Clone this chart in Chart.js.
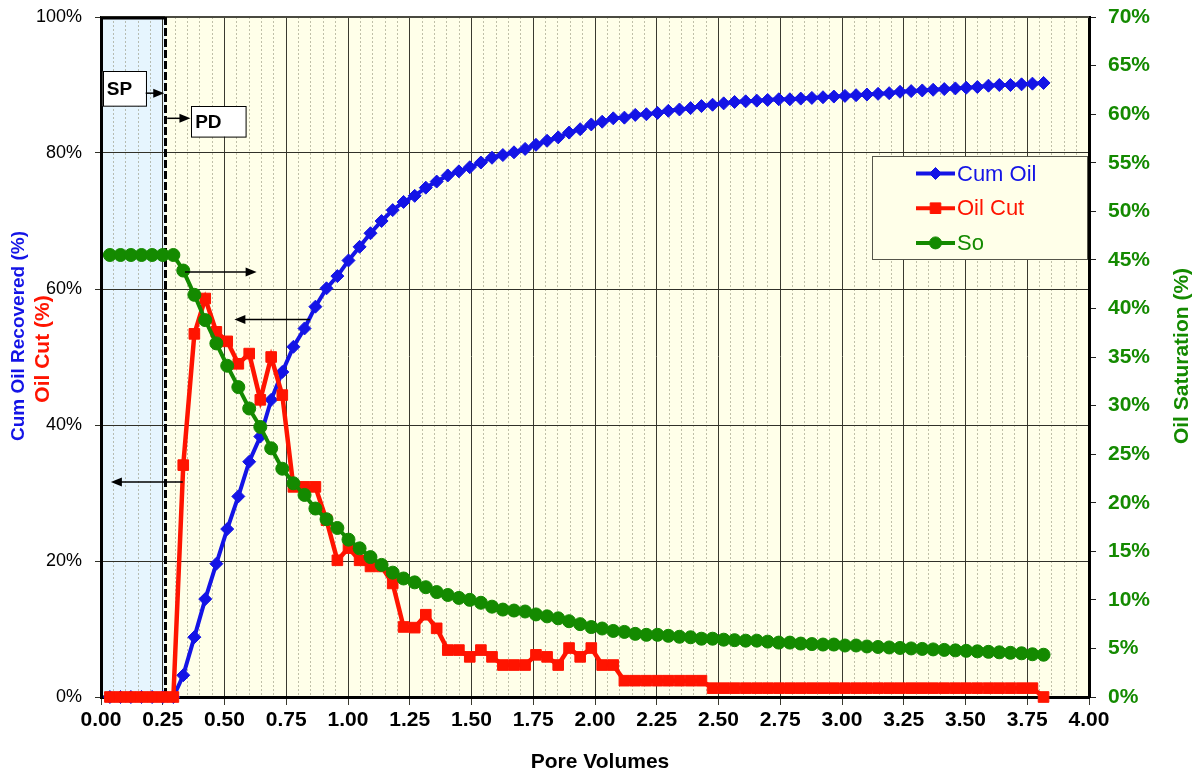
<!DOCTYPE html>
<html><head><meta charset="utf-8">
<script src="https://cdn.jsdelivr.net/npm/chart.js@4.4.1/dist/chart.umd.min.js"></script>
<style>html,body{margin:0;padding:0;background:#fff;}canvas{display:block;}</style>
</head><body>
<canvas id="c" width="1202" height="776"></canvas>
<script>
// ---------- data ----------
const pv = [0.036,0.079,0.121,0.164,0.207,0.250,0.293,0.333,0.378,0.422,0.467,0.511,0.556,0.600,0.645,0.689,
 0.734,0.779,0.824,0.868,0.913,0.957,1.002,1.047,1.091,1.136,1.181,1.225,1.270,1.315,1.359,1.404,1.449,1.493,
 1.538,1.583,1.627,1.672,1.717,1.761,1.806,1.851,1.895,1.940,1.985,2.029,2.074,2.119,2.163,2.208,2.253,2.297,
 2.342,2.387,2.431,2.476,2.521,2.565,2.610,2.655,2.699,2.744,2.789,2.833,2.878,2.923,2.967,3.012,3.057,3.101,
 3.146,3.191,3.235,3.280,3.325,3.369,3.414,3.459,3.503,3.548,3.593,3.637,3.682,3.727,3.771,3.816];
const cumOil = [0,0,0,0,0,0,0,3.2,8.8,14.4,19.6,24.7,29.5,34.6,38.3,43.7,47.8,
 51.5,54.2,57.4,60.1,61.9,64.2,66.2,68.2,70.0,71.6,
 72.8,73.7,74.9,75.8,76.7,77.3,77.9,78.6,79.3,79.7,
 80.1,80.6,81.2,81.8,82.3,83.0,83.5,84.2,84.6,85.1,
 85.2,85.6,85.7,85.9,86.2,86.4,86.6,86.9,87.1,87.3,
 87.5,87.6,87.7,87.8,87.9,87.9,88.0,88.1,88.2,88.3,
 88.4,88.5,88.6,88.7,88.8,89.0,89.1,89.2,89.3,89.4,
 89.5,89.6,89.7,89.9,90.0,90.0,90.1,90.2,90.3];
const oilCut = [0,0,0,0,0,0,0,34.1,53.4,58.6,53.7,52.3,49.0,50.5,43.7,50.0,44.4,
 30.9,30.9,30.9,26.0,20.1,21.9,20.1,19.2,19.2,16.7,
 10.3,10.2,12.1,10.1,6.9,6.9,5.9,6.9,5.9,4.7,
 4.7,4.7,6.2,5.9,4.7,7.2,5.9,7.2,4.7,4.7,
 2.4,2.4,2.4,2.4,2.4,2.4,2.4,2.4,1.3,1.3,
 1.3,1.3,1.3,1.3,1.3,1.3,1.3,1.3,1.3,1.3,
 1.3,1.3,1.3,1.3,1.3,1.3,1.3,1.3,1.3,1.3,
 1.3,1.3,1.3,1.3,1.3,1.3,1.3,1.3,0];
const so = [45.5,45.5,45.5,45.5,45.5,45.5,45.5,43.9,41.4,38.8,36.4,34.1,31.9,29.7,27.8,25.6,23.5,
 22.0,20.8,19.4,18.3,17.4,16.2,15.3,14.4,13.6,12.8,
 12.2,11.8,11.3,10.8,10.5,10.2,10.0,9.7,9.3,9.0,
 8.9,8.8,8.5,8.3,8.1,7.8,7.5,7.2,7.05,6.8,
 6.7,6.5,6.4,6.4,6.3,6.2,6.15,6.0,6.0,5.9,
 5.85,5.8,5.8,5.7,5.6,5.6,5.5,5.45,5.4,5.4,
 5.3,5.3,5.2,5.15,5.1,5.05,5.0,4.95,4.9,4.85,
 4.8,4.75,4.7,4.65,4.6,4.55,4.5,4.4,4.35];
const seriesNames = ['Cum Oil','Oil Cut','So'];
const xTicks = [0,0.25,0.5,0.75,1,1.25,1.5,1.75,2,2.25,2.5,2.75,3,3.25,3.5,3.75,4];
const leftTicks = [0,20,40,60,80,100];
const rightTicks = [0,5,10,15,20,25,30,35,40,45,50,55,60,65,70];
const spEnd = 0.26;

// ---------- styles ----------
const FONT = '"Liberation Sans", Arial, Helvetica, sans-serif';
const BLUE = '#1414E6', RED = '#FF1400', GREEN = '#148A00';

function drawMarker(ctx, style, x, y, color){
  ctx.fillStyle = color; ctx.strokeStyle = color; ctx.lineWidth = 1;
  ctx.beginPath();
  if(style === 'rectRot'){ const r=6; ctx.moveTo(x,y-r); ctx.lineTo(x+r,y); ctx.lineTo(x,y+r); ctx.lineTo(x-r,y); ctx.closePath(); }
  else if(style === 'rect'){ const s=5.3; ctx.rect(x-s,y-s,2*s,2*s); }
  else { ctx.arc(x,y,6,0,Math.PI*2); }
  ctx.fill(); ctx.stroke();
}
function arrow(ctx, x1, y, x2){
  const d = Math.sign(x2-x1);
  ctx.strokeStyle = '#000'; ctx.lineWidth = 1.5;
  ctx.beginPath(); ctx.moveTo(x1,y); ctx.lineTo(x2-d*8,y); ctx.stroke();
  ctx.fillStyle = '#000';
  ctx.beginPath(); ctx.moveTo(x2,y); ctx.lineTo(x2-d*11,y-4.5); ctx.lineTo(x2-d*11,y+4.5); ctx.closePath(); ctx.fill();
}
function labelBox(ctx, x1, y1, x2, y2, text){
  ctx.fillStyle = '#fff'; ctx.fillRect(x1,y1,x2-x1,y2-y1);
  ctx.strokeStyle = '#000'; ctx.lineWidth = 1; ctx.strokeRect(Math.round(x1)+0.5,Math.round(y1)+0.5,x2-x1,y2-y1);
  ctx.fillStyle = '#000'; ctx.font = 'bold 19px '+FONT; ctx.textAlign='left'; ctx.textBaseline='middle';
  ctx.fillText(text, x1+4, (y1+y2)/2+1);
}

const deco = {
  id:'deco',
  beforeDraw(chart){
    const {ctx, chartArea:a, scales:{x}} = chart;
    ctx.save();
    ctx.fillStyle = '#FFFFE9';
    ctx.fillRect(a.left, a.top, a.right-a.left, a.bottom-a.top);
    ctx.fillStyle = '#E6F5FE';
    ctx.fillRect(a.left, a.top, x.getPixelForValue(spEnd)-a.left, a.bottom-a.top);
    ctx.restore();
  },
  beforeDatasetsDraw(chart){
    const {ctx, chartArea:a, scales:{x}} = chart;
    const xs = Math.round(x.getPixelForValue(spEnd));
    ctx.save();
    ctx.strokeStyle = '#4a4a40'; ctx.lineWidth = 2;
    ctx.beginPath(); ctx.moveTo(a.left, a.top); ctx.lineTo(a.right, a.top); ctx.stroke();
    ctx.strokeStyle = '#000'; ctx.lineWidth = 3;
    ctx.beginPath(); ctx.moveTo(a.left, a.top+1); ctx.lineTo(xs, a.top+1); ctx.stroke();
    ctx.beginPath(); ctx.moveTo(a.left, a.bottom); ctx.lineTo(xs, a.bottom); ctx.stroke();
    ctx.setLineDash([8,3]);
    ctx.beginPath(); ctx.moveTo(xs+0.5, a.top); ctx.lineTo(xs+0.5, a.bottom); ctx.stroke();
    ctx.restore();
  },
  afterDatasetsDraw(chart){
    const {ctx, chartArea:a, scales:{x, y}} = chart;
    const X = v => x.getPixelForValue(v), Y = v => y.getPixelForValue(v);
    ctx.save();
    labelBox(ctx, X(0.007), Y(92.0), X(0.181), Y(86.9), 'SP');
    arrow(ctx, X(0.181), Y(88.8), X(spEnd)-1);
    labelBox(ctx, X(0.365), Y(86.9), X(0.586), Y(82.4), 'PD');
    arrow(ctx, X(spEnd)+2, Y(85.1), X(0.362));
    arrow(ctx, X(0.340), Y(62.5), X(0.630));
    arrow(ctx, X(0.846), Y(55.5), X(0.540));
    arrow(ctx, X(0.331), Y(31.6), X(0.040));
    // legend
    const lx = a.right-217, ly = a.top+139, lw = 215, lh = 103;
    ctx.fillStyle = '#FFFFE9'; ctx.fillRect(lx, ly, lw, lh);
    ctx.strokeStyle = '#55554a'; ctx.lineWidth = 1; ctx.strokeRect(lx+0.5, ly+0.5, lw, lh);
    const items = [[seriesNames[0], BLUE, 'rectRot'],[seriesNames[1], RED, 'rect'],[seriesNames[2], GREEN, 'circle']];
    items.forEach((it,i)=>{
      const ry = ly + 17.5 + i*34.7;
      ctx.strokeStyle = it[1]; ctx.lineWidth = 4;
      ctx.beginPath(); ctx.moveTo(lx+44, ry); ctx.lineTo(lx+83, ry); ctx.stroke();
      drawMarker(ctx, it[2], lx+63.5, ry, it[1]);
      ctx.fillStyle = it[1]; ctx.font = '22px '+FONT; ctx.textAlign='left'; ctx.textBaseline='middle';
      ctx.fillText(it[0], lx+85, ry+1);
    });
    ctx.restore();
  },
  afterDraw(chart){
    const {ctx} = chart;
    const vText = (t, cx, cy, color, size) => {
      ctx.save();
      ctx.textAlign='center'; ctx.textBaseline='middle';
      ctx.translate(cx, cy); ctx.rotate(-Math.PI/2);
      ctx.fillStyle = color; ctx.font = 'bold '+size+'px '+FONT; ctx.fillText(t, 0, 0);
      ctx.restore();
    };
    vText('Cum Oil Recovered (%)', 19, 336, BLUE, 19);
    vText('Oil Cut (%)', 43, 349, RED, 21);
    vText('Oil Saturation (%)', 1182, 356, GREEN, 21);
    ctx.save();
    ctx.textAlign='center'; ctx.textBaseline='middle';
    ctx.fillStyle = '#000'; ctx.font = 'bold 21px '+FONT; ctx.fillText('Pore Volumes', 600, 762);
    ctx.restore();
  }
};

const mk = arr => pv.map((v,i)=>({x:v, y:arr[i]}));
const noPadV = s => { s.paddingTop = 0; s.paddingBottom = 0; };

new Chart(document.getElementById('c'), {
  type:'line',
  data:{ datasets:[
    {label:seriesNames[2], data:mk(so), yAxisID:'y1', borderColor:GREEN, backgroundColor:GREEN, borderWidth:4,
     pointStyle:'circle', pointRadius:6.5, pointBorderWidth:1, tension:0, clip:false, order:0},
    {label:seriesNames[1], data:mk(oilCut), yAxisID:'y', borderColor:RED, backgroundColor:RED, borderWidth:4.5,
     pointStyle:'rect', pointRadius:7.5, pointBorderWidth:1, tension:0, clip:false, order:1},
    {label:seriesNames[0], data:mk(cumOil), yAxisID:'y', borderColor:BLUE, backgroundColor:BLUE, borderWidth:4,
     pointStyle:'rectRot', pointRadius:6.5, pointBorderWidth:1, tension:0, clip:false, order:2}
  ]},
  options:{
    responsive:false, animation:false, devicePixelRatio:1,
    layout:{padding:{top:17, left:0, right:0, bottom:0}},
    plugins:{legend:{display:false}, tooltip:{enabled:false}},
    scales:{
      xm:{ type:'linear', axis:'x', position:'bottom', min:0, max:4,
        ticks:{display:false, stepSize:0.05, autoSkip:false},
        grid:{drawTicks:false, lineWidth:1,
          color:c => { const v=c.tick.value*4; return Math.abs(v-Math.round(v))<1e-6 ? 'rgba(0,0,0,0)' : 'rgba(150,150,125,0.6)'; }},
        border:{display:false, dash:[2,2]},
        afterFit:s=>{ s.height = 0; s.paddingLeft = 0; s.paddingRight = 0; } },
      x:{ type:'linear', position:'bottom', min:0, max:4,
        afterBuildTicks:s=>{ s.ticks = xTicks.map(v=>({value:v})); },
        ticks:{autoSkip:false, maxRotation:0, color:'#000', padding:3,
          font:{family:FONT, size:21, weight:'bold'}, callback:v=>Number(v).toFixed(2)},
        grid:{color:'#3a3a30', lineWidth:1, tickLength:8},
        border:{color:'#000', width:3},
        afterFit:s=>{ s.height = 79; s.paddingLeft = 0; s.paddingRight = 0; } },
      y:{ type:'linear', position:'left', min:0, max:100,
        afterBuildTicks:s=>{ s.ticks = leftTicks.map(v=>({value:v})); },
        ticks:{color:'#000', padding:13, font:{family:FONT, size:18}, callback:v=>v+'%'},
        grid:{color:'#303028', lineWidth:1, tickLength:6},
        border:{color:'#000', width:3},
        afterFit:s=>{ s.width = 101; noPadV(s); } },
      y1:{ type:'linear', position:'right', min:0, max:70,
        afterBuildTicks:s=>{ s.ticks = rightTicks.map(v=>({value:v})); },
        ticks:{color:GREEN, padding:12, font:{family:FONT, size:21, weight:'bold'}, callback:v=>v+'%'},
        grid:{drawOnChartArea:false, color:'#202020', lineWidth:1, tickLength:7},
        border:{color:'#000', width:3},
        afterFit:s=>{ s.width = 113; noPadV(s); } }
    }
  },
  plugins:[deco]
});
</script>
</body></html>
